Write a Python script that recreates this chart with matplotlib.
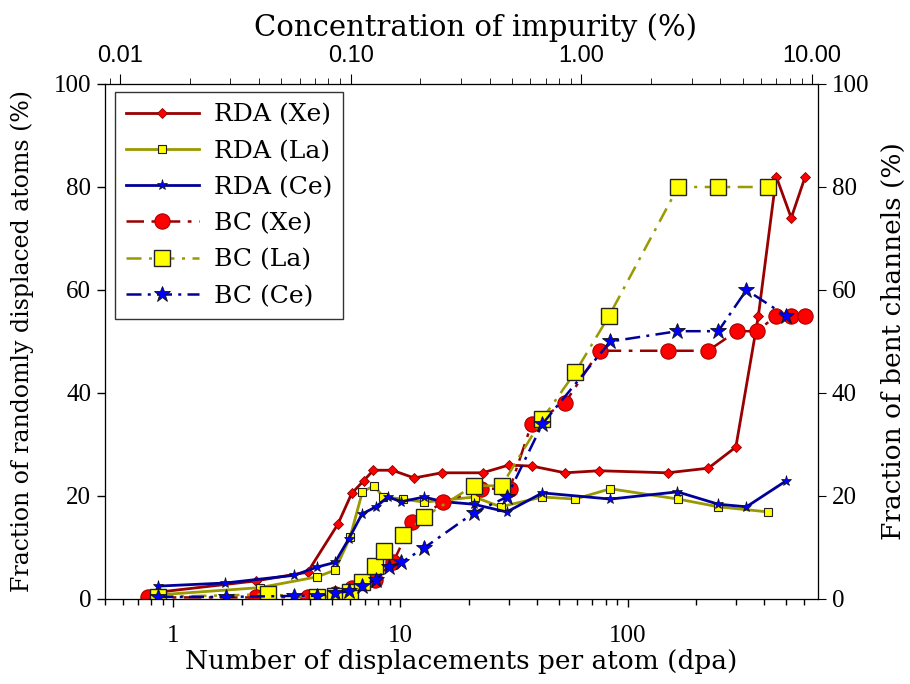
import matplotlib

matplotlib.use("Agg")

import matplotlib.pyplot as plt
from matplotlib.ticker import FixedLocator, FuncFormatter, LogLocator, NullFormatter

plt.rcParams["font.family"] = ["Liberation Serif", "DejaVu Serif"]
LABEL_FONT = ["DejaVu Serif"]

# RDA = randomly displaced atoms (left axis), BC = bent channels (right axis)
rda_xe_dpa = [0.85, 2.3, 3.9, 5.3, 6.1, 6.9, 7.6, 9.2, 11.5, 15.2, 23, 30, 38, 53,
              75, 150, 227, 300, 377, 452, 526, 606]
rda_xe_val = [1.3, 3.5, 5.2, 14.5, 20.5, 23, 25, 25, 23.5, 24.5, 24.5, 26, 25.8, 24.5,
              24.9, 24.5, 25.4, 29.5, 55, 82, 74, 82]

rda_la_dpa = [0.86, 2.4, 4.3, 5.15, 6.0, 6.8, 7.65, 8.4, 10.3, 12.7, 21.2, 27.6, 42.2,
              58.8, 84, 167, 251, 417]
rda_la_val = [0.8, 2.2, 4.3, 5.6, 12, 20.8, 22, 19.8, 19.4, 18.8, 19.8, 17.9, 19.8,
              19.4, 21.4, 19.4, 17.9, 16.9]

rda_ce_dpa = [0.86, 1.69, 3.4, 4.3, 5.15, 5.93, 6.77, 7.8, 8.8, 10.1, 12.7, 15.4, 21.0,
              29.4, 42.2, 84, 166, 251, 334, 498]
rda_ce_val = [2.5, 3.1, 4.6, 6.2, 7.1, 11.7, 16.5, 17.9, 19.8, 18.9, 19.8, 18.9, 18.4,
              16.9, 20.6, 19.4, 20.8, 18.4, 17.9, 22.9]

bc_xe_dpa = [0.77, 2.3, 3.9, 5.15, 6.1, 7.7, 9.3, 11.3, 15.4, 22.7, 30.3, 37.8, 52.9,
             75.3, 150, 226, 303, 372, 452, 526, 606]
bc_xe_val = [0.3, 0.3, 0.4, 1.0, 2.1, 3.7, 7.2, 15, 18.8, 21.4, 21.4, 34, 38, 48.2,
             48.2, 48.2, 52, 52, 55, 55, 55]

bc_la_dpa = [0.86, 2.6, 4.3, 5.15, 6.0, 6.8, 7.7, 8.5, 10.3, 12.7, 21.0, 27.9, 42.2,
             58.8, 83, 167, 251, 417]
bc_la_val = [0.4, 0.9, 0.3, 0.6, 1.3, 3.3, 6.4, 9.3, 12.4, 15.9, 22, 22, 35, 44, 55,
             80, 80, 80]

bc_ce_dpa = [0.86, 1.71, 3.4, 4.3, 5.15, 5.93, 6.77, 7.8, 8.9, 10.1, 12.7, 21.0, 29.4,
             42.2, 84, 166, 251, 334, 498]
bc_ce_val = [0.4, 0.4, 0.6, 0.6, 1.1, 1.5, 2.6, 3.7, 6.3, 7.1, 9.9, 16.7, 19.8, 34, 50,
             52, 52, 60, 55]

DARK_RED = "#990000"
OLIVE = "#999900"
NAVY = "#000099"

fig = plt.figure(figsize=(9.1, 6.84), dpi=100)
ax = fig.add_axes([0.1154, 0.1243, 0.7835, 0.7529])

ax.plot(rda_xe_dpa, rda_xe_val, color=DARK_RED, lw=2, marker="D", ms=5,
        mfc="#ff0000", mec="#880000", mew=0.6, label="RDA (Xe)")
ax.plot(rda_la_dpa, rda_la_val, color=OLIVE, lw=2, marker="s", ms=6,
        mfc="#ffff00", mec="#222222", mew=0.8, label="RDA (La)")
ax.plot(rda_ce_dpa, rda_ce_val, color=NAVY, lw=2, marker="*", ms=8,
        mfc="#0000ff", mec="#111111", mew=0.5, label="RDA (Ce)")
ax.plot(bc_xe_dpa, bc_xe_val, color=DARK_RED, lw=1.8, ls=(0, (7, 3, 1.5, 3)),
        marker="o", ms=11, mfc="#ff0000", mec="#aa0000", mew=0.8, label="BC (Xe)")
ax.plot(bc_la_dpa, bc_la_val, color=OLIVE, lw=1.8, ls=(0, (6, 3, 1.2, 3)),
        marker="s", ms=11, mfc="#ffff00", mec="#222222", mew=1.0, label="BC (La)")
ax.plot(bc_ce_dpa, bc_ce_val, color=NAVY, lw=1.8, ls=(0, (6, 2.5, 1.2, 2.5)),
        marker="*", ms=12, mfc="#0000ff", mec="#111111", mew=0.6, label="BC (Ce)")

ax.set_xscale("log")
ax.set_xlim(0.5, 690)
ax.set_ylim(0, 100)
ax.xaxis.set_major_locator(FixedLocator([1, 10, 100]))
ax.xaxis.set_major_formatter(FuncFormatter(lambda v, p: f"{v:g}"))
ax.xaxis.set_minor_locator(LogLocator(base=10, subs=range(2, 10)))
ax.xaxis.set_minor_formatter(NullFormatter())
ax.set_yticks(range(0, 101, 20))
ax.tick_params(axis="both", which="major", direction="out", length=6, width=1,
               labelsize=18, pad=4)
ax.tick_params(axis="x", which="major", pad=13)
ax.tick_params(axis="x", which="minor", direction="out", length=4, width=1)
ax.set_xlabel("Number of displacements per atom (dpa)", fontsize=19,
              family=LABEL_FONT, labelpad=1)
ax.set_ylabel("Fraction of randomly displaced atoms (%)", fontsize=17,
              family=LABEL_FONT)
ax.yaxis.set_label_coords(-0.1, 0.5)
for spine in ax.spines.values():
    spine.set_color("#555555")

right = ax.twinx()
right.set_ylim(0, 100)
right.set_yticks(range(0, 101, 20))
right.tick_params(axis="y", direction="out", length=6, labelsize=18, pad=4)
right.set_ylabel("Fraction of bent channels (%)", fontsize=19, family=LABEL_FONT)
right.yaxis.set_label_coords(1.088, 0.5)

top = ax.twiny()
top.set_xscale("log")
top.set_xlim(0.0086, 10.6)
top.xaxis.set_major_locator(FixedLocator([0.01, 0.1, 1, 10]))
top.xaxis.set_major_formatter(FuncFormatter(lambda v, p: f"{v:.2f}"))
top.xaxis.set_minor_locator(LogLocator(base=10, subs=range(2, 10)))
top.xaxis.set_minor_formatter(NullFormatter())
top.tick_params(axis="x", which="major", direction="out", length=7, labelsize=17,
                pad=5)
top.tick_params(axis="x", which="minor", direction="out", length=4)
for lbl in top.get_xticklabels():
    lbl.set_family(["Liberation Sans", "DejaVu Sans"])
top.set_xlabel("Concentration of impurity (%)", fontsize=21, family=LABEL_FONT)
top.xaxis.set_label_coords(0.52, 1.093)

leg = ax.legend(loc="upper left", bbox_to_anchor=(0.014, 0.984), borderaxespad=0,
                prop={"family": LABEL_FONT, "size": 18}, frameon=True,
                fancybox=False, edgecolor="black", handlelength=2.9,
                labelspacing=0.53, borderpad=0.45, handletextpad=0.6)
leg.get_frame().set_linewidth(1.0)

fig.savefig("out.png", dpi=100)
